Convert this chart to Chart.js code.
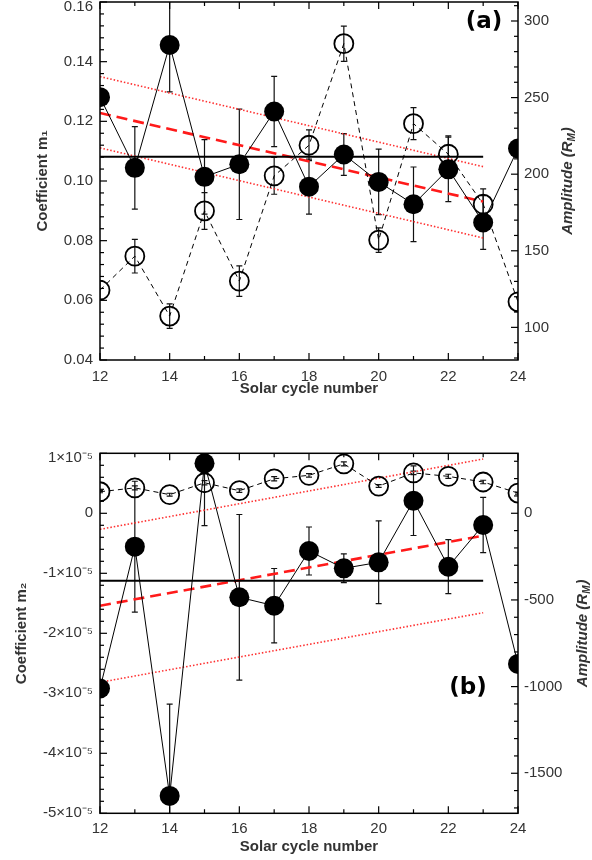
<!DOCTYPE html>
<html>
<head>
<meta charset="utf-8">
<script src="https://cdn.jsdelivr.net/npm/chart.js@4.4.1/dist/chart.umd.min.js"></script>
<style>
  body { margin: 0; background: #fff; }
  #wrap { position: relative; width: 592px; height: 860px; }
  #wrap canvas { position: absolute; left: 0; }
</style>
</head>
<body>
<div id="wrap">
  <canvas id="chart_a" width="592" height="400" style="top:0"></canvas>
  <canvas id="chart_b" width="592" height="460" style="top:400px"></canvas>
</div>
<script>
// solar cycles 12..24
var cycles = [12, 13, 14, 15, 16, 17, 18, 19, 20, 21, 22, 23, 24];

// open circles: cycle amplitude (same values in both panels)
var amplitude = [124.3, 146.5, 107.4, 176.0, 130.2, 198.9, 218.9, 285.2, 157.0, 233.0, 213.0, 180.4, 116.7];
var amplitude_err = [6, 11, 8, 12, 10, 12, 10, 11.5, 8, 10.5, 12, 10, 6];

// filled circles, panel (a)
var m1 = [0.1281, 0.1044, 0.1456, 0.1014, 0.1056, 0.1233, 0.0981, 0.1089, 0.0997, 0.0922, 0.1039, 0.0861, 0.1109];
var m1_err = [null, 0.0138, 0.0157, 0.0125, 0.0185, 0.0118, 0.0092, 0.0070, 0.0110, 0.0125, 0.0108, 0.0090, null];

// filled circles, panel (b)
var m2 = [-2.92e-5, -0.556e-5, -4.71e-5, 0.833e-5, -1.40e-5, -1.54e-5, -0.628e-5, -0.917e-5, -0.817e-5, 0.21e-5, -0.89e-5, -0.195e-5, -2.51e-5];
var m2_err = [null, 1.09e-5, 1.53e-5, 1.04e-5, 1.38e-5, 0.62e-5, 0.40e-5, 0.24e-5, 0.69e-5, 0.58e-5, 0.45e-5, 0.46e-5, null];

// mean and linear fits (cycles 12-23)
var fit_x = [12, 23];
var m1_mean = [0.1081, 0.1081];
var m1_trend = [0.1228, 0.0931];
var m1_upper = [0.1350, 0.1048];
var m1_lower = [0.1111, 0.0809];
var m2_mean = [-1.123e-5, -1.123e-5];
var m2_trend = [-1.54e-5, -0.373e-5];
var m2_upper = [-0.267e-5, 0.905e-5];
var m2_lower = [-2.817e-5, -1.657e-5];

// tick labels
var x_ticks = [12, 14, 16, 18, 20, 22, 24];
var m1_ticks = [0.04, 0.06, 0.08, 0.10, 0.12, 0.14, 0.16];
var amp_ticks_a = [100, 150, 200, 250, 300];
var m2_ticks = [-5e-5, -4e-5, -3e-5, -2e-5, -1e-5, 0, 1e-5];
var amp_ticks_b = [-1500, -1000, -500, 0];

var FONT = '"Liberation Sans", Arial, sans-serif';
var TXT = '#333';

function pts(xs, ys) {
  return xs.map(function (x, i) { return { x: x, y: ys[i] }; });
}

function fixedTicks(list) {
  return function (s) { s.ticks = list.map(function (v) { return { value: v }; }); };
}

// vertical error bars, drawn under the markers
var errorBars = {
  id: 'errorBars',
  beforeDatasetsDraw: function (chart) {
    var ctx = chart.ctx, area = chart.chartArea;
    ctx.save();
    ctx.beginPath();
    ctx.rect(area.left, area.top, area.right - area.left, area.bottom - area.top);
    ctx.clip();
    ctx.strokeStyle = '#111';
    ctx.lineWidth = 1.2;
    chart.data.datasets.forEach(function (ds, i) {
      if (!ds.errors) return;
      var meta = chart.getDatasetMeta(i);
      var xs = chart.scales.x, ys = chart.scales[meta.yAxisID];
      ds.data.forEach(function (p, j) {
        var e = ds.errors[j];
        if (e == null) return;
        var px = xs.getPixelForValue(p.x);
        var y1 = ys.getPixelForValue(p.y + e), y2 = ys.getPixelForValue(p.y - e);
        ctx.beginPath();
        ctx.moveTo(px, y1); ctx.lineTo(px, y2);
        ctx.moveTo(px - 3, y1); ctx.lineTo(px + 3, y1);
        ctx.moveTo(px - 3, y2); ctx.lineTo(px + 3, y2);
        ctx.stroke();
      });
    });
    ctx.restore();
  }
};

// box frame with inward ticks on all sides
var frame = {
  id: 'frame',
  afterDatasetsDraw: function (chart, args, opts) {
    var ctx = chart.ctx, a = chart.chartArea;
    ctx.save();
    ctx.strokeStyle = '#000';
    ctx.lineWidth = 1.5;
    ctx.strokeRect(a.left, a.top, a.right - a.left, a.bottom - a.top);
    ctx.lineWidth = 1.2;
    ['x', 'y', 'yR'].forEach(function (id) {
      var s = chart.scales[id], st = opts[id];
      var n0 = Math.ceil(s.min / st.minor - 1e-6), n1 = Math.floor(s.max / st.minor + 1e-6);
      for (var n = n0; n <= n1; n++) {
        var v = n * st.minor;
        var q = v / st.major;
        var len = Math.abs(q - Math.round(q)) < 1e-6 ? 7 : 4;
        var p = s.getPixelForValue(v);
        ctx.beginPath();
        if (id === 'x') {
          ctx.moveTo(p, a.bottom); ctx.lineTo(p, a.bottom - len);
          ctx.moveTo(p, a.top); ctx.lineTo(p, a.top + len);
        } else if (id === 'y') {
          ctx.moveTo(a.left, p); ctx.lineTo(a.left + len, p);
        } else {
          ctx.moveTo(a.right, p); ctx.lineTo(a.right - len, p);
        }
        ctx.stroke();
      }
    });
    ctx.restore();
  }
};

// right-hand title with subscript, and the panel letter
var labels = {
  id: 'labels',
  afterDraw: function (chart, args, opts) {
    var ctx = chart.ctx, a = chart.chartArea;
    ctx.save();
    ctx.fillStyle = TXT;
    ctx.textBaseline = 'middle';
    ctx.textAlign = 'left';
    ctx.translate(opts.rightX, (a.top + a.bottom) / 2);
    ctx.rotate(-Math.PI / 2);
    var big = 'italic bold 15px ' + FONT, small = 'italic bold 10px ' + FONT;
    ctx.font = big;
    var w1 = ctx.measureText('Amplitude (R').width, w3 = ctx.measureText(')').width;
    ctx.font = small;
    var w2 = ctx.measureText('M').width;
    var x0 = -(w1 + w2 + w3 + 1) / 2;
    ctx.font = big; ctx.fillText('Amplitude (R', x0, 0);
    ctx.font = small; ctx.fillText('M', x0 + w1, 4);
    ctx.font = big; ctx.fillText(')', x0 + w1 + w2 + 1, 0);
    ctx.restore();

    ctx.save();
    ctx.fillStyle = '#000';
    ctx.font = 'bold 23px "DejaVu Sans", sans-serif';
    ctx.textAlign = 'center';
    ctx.textBaseline = 'middle';
    ctx.fillText(opts.panel, opts.panelX, opts.panelY);
    ctx.restore();
  }
};

function makeConfig(p) {
  var topValue = p.yTickList[p.yTickList.length - 1];
  return {
    type: 'line',
    data: {
      datasets: [
        { data: pts(cycles, p.coef), errors: p.coefErr, yAxisID: 'y', borderColor: '#000', borderWidth: 1,
          pointRadius: 10, pointBackgroundColor: '#000', pointBorderWidth: 0, clip: 0 },
        { data: pts(cycles, amplitude), errors: amplitude_err, yAxisID: 'yR', borderColor: '#000', borderWidth: 1,
          borderDash: [5, 4], pointRadius: 9.5, pointBackgroundColor: 'rgba(0,0,0,0)', pointBorderColor: '#000',
          pointBorderWidth: 1.8, clip: 0 },
        { data: pts(fit_x, p.mean), yAxisID: 'y', borderColor: '#000', borderWidth: 2, pointRadius: 0, clip: 0 },
        { data: pts(fit_x, p.trend), yAxisID: 'y', borderColor: '#ff1a1a', borderWidth: 2.6, borderDash: [11, 6],
          pointRadius: 0, clip: 0 },
        { data: pts(fit_x, p.upper), yAxisID: 'y', borderColor: '#ff3030', borderWidth: 1.6, borderDash: [1.5, 2],
          pointRadius: 0, clip: 0 },
        { data: pts(fit_x, p.lower), yAxisID: 'y', borderColor: '#ff3030', borderWidth: 1.6, borderDash: [1.5, 2],
          pointRadius: 0, clip: 0 }
      ]
    },
    options: {
      responsive: false,
      animation: false,
      events: [],
      layout: { autoPadding: false, padding: { top: p.top, left: 0, right: 0, bottom: 0 } },
      plugins: {
        legend: { display: false },
        tooltip: { enabled: false },
        frame: { x: { minor: 1, major: 2 }, y: p.yTicks, yR: p.rTicks },
        labels: { rightX: p.rightX, panel: p.panel, panelX: p.panelX, panelY: p.panelY }
      },
      scales: {
        x: {
          type: 'linear', position: 'bottom', min: 12, max: 24,
          grid: { display: false, drawTicks: false }, border: { display: false },
          ticks: { color: TXT, font: { family: FONT, size: 15 }, padding: p.xPad, maxRotation: 0 },
          title: { display: true, text: 'Solar cycle number', color: TXT,
                   font: { family: FONT, size: 15, weight: 'bold' }, padding: { top: 0, bottom: p.xTitlePad } },
          afterBuildTicks: fixedTicks(x_ticks),
          afterFit: function (s) { s.height = p.xHeight; s.paddingLeft = 0; s.paddingRight = 0; }
        },
        y: {
          type: 'linear', position: 'left', min: p.yMin, max: p.yMax,
          grid: { display: false, drawTicks: false }, border: { display: false },
          ticks: {
            color: TXT, padding: 7,
            // the top label sits a little below its tick, as in the original
            font: function (c) {
              var top = c.tick && Math.abs(c.tick.value - topValue) < 1e-12;
              return { family: FONT, size: 15, lineHeight: top ? '10px' : 1.2 };
            },
            callback: function (v) {
              var s = p.yFormat(v);
              return Math.abs(v - topValue) < 1e-12 ? ['', s] : s;
            }
          },
          title: { display: true, text: p.yTitle, color: TXT,
                   font: { family: FONT, size: 15, weight: 'bold' }, padding: { top: p.yTitlePad, bottom: 0 } },
          afterBuildTicks: fixedTicks(p.yTickList),
          afterFit: function (s) { s.width = 100; s.paddingTop = 0; s.paddingBottom = 0; }
        },
        yR: {
          type: 'linear', position: 'right', min: p.rMin, max: p.rMax,
          grid: { display: false, drawTicks: false }, border: { display: false },
          ticks: { color: TXT, font: { family: FONT, size: 15 }, padding: 6,
                   callback: function (v) { return String(v); } },
          afterBuildTicks: fixedTicks(p.rTickList),
          afterFit: function (s) { s.width = 74; s.paddingTop = 0; s.paddingBottom = 0; }
        }
      }
    },
    plugins: [errorBars, frame, labels]
  };
}

window.onload = function () {
  var chart_a = new Chart(document.getElementById('chart_a').getContext('2d'), makeConfig({
    coef: m1, coefErr: m1_err, mean: m1_mean, trend: m1_trend, upper: m1_upper, lower: m1_lower,
    top: 2, xHeight: 40, xPad: 8, xTitlePad: 2,
    yMin: 0.04, yMax: 0.16, yTickList: m1_ticks, yTicks: { minor: 0.004, major: 0.02 },
    yFormat: function (v) { return v.toFixed(2); },
    yTitle: 'Coefficient m\u2081', yTitlePad: 34,
    rMin: 78.7, rMax: 312.4, rTickList: amp_ticks_a, rTicks: { minor: 10, major: 50 },
    rightX: 568, panel: '(a)', panelX: 484, panelY: 22
  }));

  var chart_b = new Chart(document.getElementById('chart_b').getContext('2d'), makeConfig({
    coef: m2, coefErr: m2_err, mean: m2_mean, trend: m2_trend, upper: m2_upper, lower: m2_lower,
    top: 53.3, xHeight: 46.7, xPad: 7, xTitlePad: 4,
    yMin: -5e-5, yMax: 1e-5, yTickList: m2_ticks, yTicks: { minor: 0.2e-5, major: 1e-5 },
    yFormat: function (v) {
      var n = Math.round(v * 1e5);
      return n === 0 ? '0' : n + '\u00d710\u207b\u2075';
    },
    yTitle: 'Coefficient m\u2082', yTitlePad: 13,
    rMin: -1731, rMax: 346, rTickList: amp_ticks_b, rTicks: { minor: 100, major: 500 },
    rightX: 583, panel: '(b)', panelX: 468, panelY: 288
  }));
};
</script>
</body>
</html>
